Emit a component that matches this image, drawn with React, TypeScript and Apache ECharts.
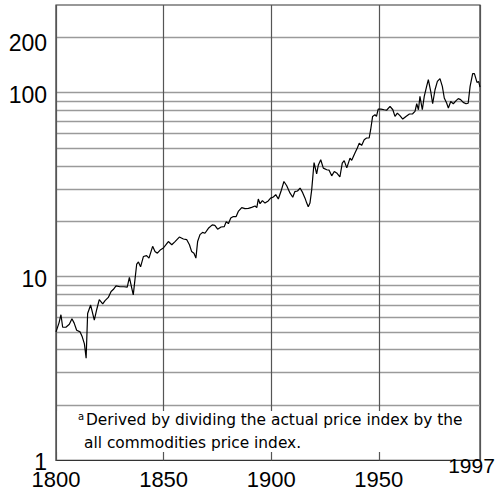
import React, { useEffect, useRef } from "react";
import * as echarts from "echarts";

// Year positions and index values
const years: number[] = [
  1800.0, 1801.4, 1802.3, 1803.1, 1804.6, 1806.2, 1807.4, 1808.4, 1809.6, 1811.2,
  1812.2, 1813.2, 1814.0, 1814.7, 1816.1, 1817.8, 1818.9, 1820.1, 1821.7, 1822.8,
  1824.3, 1825.6, 1826.6, 1827.9, 1829.7, 1831.6, 1833.1, 1834.1, 1835.2, 1835.9,
  1837.5, 1838.3, 1839.3, 1840.6, 1842.1, 1843.2, 1844.9, 1846.0, 1847.1, 1848.6,
  1849.9, 1851.1, 1852.2, 1853.8, 1855.3, 1857.3, 1859.2, 1860.7, 1862.0, 1863.0,
  1864.1, 1865.0, 1865.8, 1866.9, 1868.1, 1869.2, 1870.8, 1872.6, 1873.8, 1875.1,
  1876.7, 1878.2, 1879.1, 1880.1, 1881.2, 1882.4, 1883.7, 1884.7, 1886.3, 1887.8,
  1889.4, 1890.9, 1892.5, 1893.3, 1894.0, 1894.8, 1895.9, 1897.1, 1898.6, 1899.7,
  1901.0, 1902.1, 1903.3, 1904.5, 1905.9, 1907.2, 1908.7, 1910.0, 1911.0, 1912.2,
  1913.4, 1914.6, 1915.7, 1916.5, 1917.2, 1918.0, 1918.8, 1919.9, 1921.1, 1921.9,
  1923.0, 1924.2, 1925.8, 1926.9, 1928.1, 1929.3, 1930.4, 1931.9, 1933.0, 1933.9,
  1935.1, 1936.6, 1937.4, 1938.9, 1940.0, 1940.9, 1942.0, 1943.2, 1944.3, 1945.5,
  1946.2, 1947.1, 1948.2, 1948.9, 1949.7, 1951.0, 1952.5, 1953.6, 1955.2, 1956.5,
  1957.5, 1958.6, 1959.8, 1961.1, 1962.6, 1964.2, 1965.7, 1966.8, 1967.6, 1968.4,
  1969.1, 1970.2, 1971.1, 1972.2, 1973.0, 1974.1, 1975.0, 1976.1, 1977.2, 1978.4,
  1979.5, 1980.4, 1981.5, 1982.3, 1983.4, 1984.6, 1985.9, 1986.9, 1988.0, 1989.2,
  1990.5, 1991.5, 1992.4, 1993.6, 1994.4, 1995.6, 1996.4, 1997.0,
];

const values: number[] = [
  5.0, 5.6, 6.2, 5.3, 5.3, 5.5, 5.9, 5.6, 5.1, 5.0,
  4.7, 4.3, 3.6, 6.3, 7.0, 5.8, 6.6, 7.5, 7.1, 7.4,
  7.7, 8.3, 8.5, 8.9, 8.8, 8.8, 8.75, 9.9, 8.65, 7.95,
  11.7, 12.0, 11.3, 12.85, 13.0, 12.6, 14.6, 13.7, 13.4, 14.0,
  14.3, 14.9, 15.5, 14.9, 15.5, 16.4, 16.0, 15.9, 14.9, 13.7,
  13.4, 12.6, 15.5, 16.9, 17.4, 17.2, 18.3, 19.1, 19.0, 18.1,
  18.6, 18.7, 19.9, 19.4, 20.8, 21.2, 21.2, 22.6, 23.7, 23.4,
  23.5, 23.8, 24.2, 23.7, 26.4, 24.9, 25.9, 25.1, 25.8, 26.7,
  27.1, 27.9, 26.4, 29.0, 32.9, 31.2, 28.5, 27.0, 29.0, 29.2,
  30.3, 28.6, 26.7, 25.1, 24.0, 25.1, 29.6, 41.7, 36.2, 40.5,
  43.2, 38.9, 38.1, 37.9, 35.3, 37.3, 36.6, 34.8, 41.4, 42.7,
  39.0, 44.1, 42.9, 47.0, 50.0, 53.2, 51.7, 55.5, 56.7, 56.7,
  62.9, 74.3, 75.9, 74.3, 81.5, 81.5, 80.8, 80.3, 84.2, 80.8,
  74.3, 77.5, 75.0, 71.9, 74.3, 76.6, 76.8, 79.2, 87.1, 80.8,
  95.5, 80.8, 95.5, 108.2, 117.7, 101.6, 87.1, 103.8, 115.2, 119.2,
  108.2, 93.6, 87.9, 82.5, 89.6, 87.1, 90.5, 92.8, 91.7, 88.6,
  87.1, 87.6, 108.2, 126.9, 126.9, 113.8, 115.0, 107.4,
];

const yLabels: number[] = [1, 10, 100, 200];
const hGridValues: number[] = [
  2, 3, 4, 5, 6, 7, 8, 9, 10, 20, 30, 40, 50, 60, 70, 80, 90, 100, 200,
];
const xMin = 1800;
const xMax = 1997;
const footLine1 = "Derived by dividing the actual price index by the";
const footLine2 = "all commodities price index.";
const footMark = "a";

const FONT = "'Liberation Sans', Arial, Helvetica, sans-serif";
const FOOT_FONT = "'DejaVu Sans', sans-serif";

export default function App() {
  const ref = useRef<HTMLDivElement>(null);

  useEffect(() => {
    if (!ref.current) return;
    const chart = echarts.init(ref.current, null, { renderer: "svg" });
    const data = years.map((y, i) => [y, values[i]]);

    chart.setOption({
      animation: false,
      backgroundColor: "#fff",
      grid: {
        left: 56,
        top: 5,
        width: 424,
        height: 455.4,
        show: true,
        borderColor: "#333",
        borderWidth: 1.2,
        backgroundColor: "transparent",
      },
      xAxis: {
        type: "value",
        min: xMin,
        max: xMax,
        interval: 50,
        z: 2,
        axisLine: { show: false },
        axisTick: { show: false },
        splitLine: { show: true, lineStyle: { color: "#555", width: 1.2 } },
        axisLabel: {
          show: true,
          showMaxLabel: false,
          margin: 11,
          lineHeight: 16,
          color: "#000",
          fontSize: 22,
          fontFamily: FONT,
          formatter: (v: number) => String(v),
        },
      },
      yAxis: {
        type: "log",
        logBase: 10,
        min: 1,
        max: 300,
        axisLine: { show: false },
        axisTick: { show: false },
        splitLine: { show: false },
        axisLabel: {
          customValues: yLabels,
          margin: 9,
          color: "#000",
          fontSize: 23,
          lineHeight: 16,
          fontFamily: FONT,
          padding: [4, 0, 0, 0],
          formatter: (v: number) => (v === 200 ? "{s|200}" : String(v)),
          rich: {
            s: {
              padding: [8, 0, 0, 0],
              fontSize: 23,
              lineHeight: 16,
              fontFamily: FONT,
              color: "#000",
            },
          },
        },
      },
      series: [
        {
          type: "line",
          data,
          z: 3,
          symbol: "none",
          lineStyle: { color: "#000", width: 1.2 },
          markLine: {
            z: 1,
            silent: true,
            symbol: ["none", "none"],
            label: { show: false },
            lineStyle: { color: "#9a9a9a", width: 1.4, type: "solid" },
            emphasis: { disabled: true },
            data: hGridValues.map((v) => ({ yAxis: v })),
          },
        },
      ],
      graphic: [
        {
          type: "rect",
          z: 10,
          shape: { x: 57.5, y: 411, width: 421.5, height: 41 },
          style: { fill: "#fff" },
        },
        {
          type: "text",
          z: 11,
          x: 78,
          y: 416,
          style: {
            text: footMark,
            fontSize: 10,
            fontFamily: FOOT_FONT,
            fill: "#000",
            align: "left",
            verticalAlign: "middle",
          },
        },
        {
          type: "text",
          z: 11,
          x: 86,
          y: 419.5,
          style: {
            text: footLine1,
            fontSize: 15.4,
            fontFamily: FOOT_FONT,
            fill: "#000",
            align: "left",
            verticalAlign: "middle",
          },
        },
        {
          type: "text",
          z: 11,
          x: 84,
          y: 442.5,
          style: {
            text: footLine2,
            fontSize: 15.4,
            fontFamily: FOOT_FONT,
            fill: "#000",
            align: "left",
            verticalAlign: "middle",
          },
        },
        {
          type: "text",
          z: 11,
          x: 471.5,
          y: 465,
          style: {
            text: String(xMax),
            fontSize: 21,
            fontFamily: FONT,
            fill: "#000",
            align: "center",
            verticalAlign: "middle",
          },
        },
      ],
    });

    return () => chart.dispose();
  }, []);

  return (
    <div
      ref={ref}
      style={{ position: "fixed", left: 0, top: 0, width: 501, height: 499 }}
    />
  );
}
